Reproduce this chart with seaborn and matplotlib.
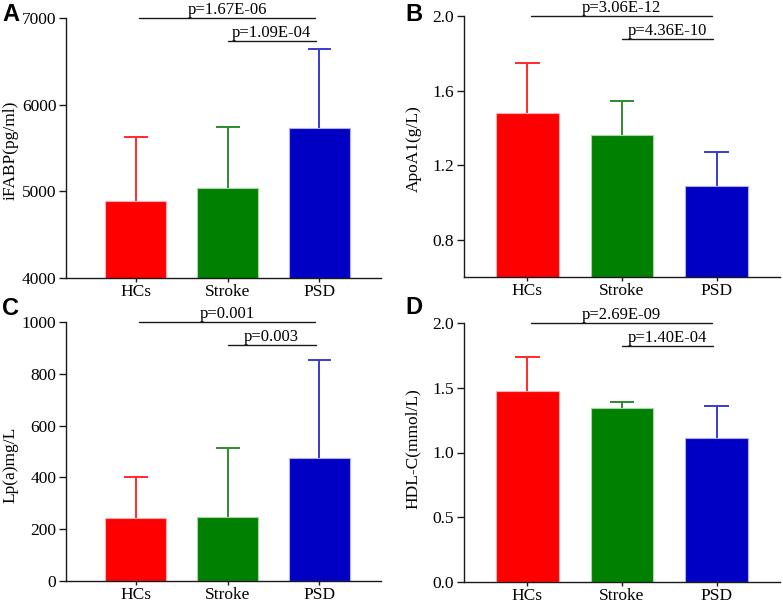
import matplotlib
matplotlib.use('Agg')
import matplotlib.pyplot as plt
import matplotlib.transforms as mtransforms
import seaborn as sns
import pandas as pd

# ---------------- data ----------------
groups = ['HCs', 'Stroke', 'PSD']

ifabp_mean = [4888, 5038, 5731]
ifabp_sd = [739, 704, 911]

apoa1_mean = [1.478, 1.360, 1.088]
apoa1_sd = [0.268, 0.186, 0.185]

lpa_mean = [243, 248, 474]
lpa_sd = [158, 266, 380]

hdl_mean = [1.473, 1.347, 1.114]
hdl_sd = [0.264, 0.045, 0.246]

ylabels = ['iFABP(pg/ml)', 'ApoA1(g/L)', 'Lp(a)mg/L', 'HDL-C(mmol/L)']
panel_letters = ['A', 'B', 'C', 'D']

pvals_A = ['p=1.67E-06', 'p=1.09E-04']
pvals_B = ['p=3.06E-12', 'p=4.36E-10']
pvals_C = ['p=0.001', 'p=0.003']
pvals_D = ['p=2.69E-09', 'p=1.40E-04']
pairs = [(0, 2), (1, 2)]

yticks_A = [4000, 5000, 6000, 7000]
yticks_B = [0.8, 1.2, 1.6, 2.0]
yticks_C = [0, 200, 400, 600, 800, 1000]
yticks_D = [0.0, 0.5, 1.0, 1.5, 2.0]
ylim_A = (4000, 7000)
ylim_B = (0.6, 2.0)
ylim_C = (0, 1000)
ylim_D = (0, 2.0)
ytick_fmt = ['{:.0f}', '{:.1f}', '{:.0f}', '{:.1f}']

# ---------------- style ----------------
sns.set_theme(style='ticks')
plt.rcParams['font.family'] = ['Liberation Serif', 'DejaVu Serif']

bar_colors = ['#FF0000', '#008000', '#0000C4']
err_colors = ['#FF2A2A', '#2E8B2E', '#3A3AD0']
edge_colors = ['#FFB0B0', '#A8D8A8', '#B0B0F0']

W, H = 783, 604
fig = plt.figure(figsize=(W / 100, H / 100), dpi=100)

# axes rectangles in pixels: left, right, top, bottom
rects = [(66, 381, 18, 278), (464, 780, 16, 277), (66, 381, 322, 581), (464, 780, 323, 582)]
xlims = [(-0.76, 2.67), (-0.67, 2.67), (-0.76, 2.67), (-0.67, 2.67)]
ylabel_x = [-0.150, -0.133, -0.150, -0.135]
ylabel_y = [0.49, 0.49, 0.45, 0.515]
letter_pos = [(2, 3), (405, 3), (2, 297), (405, 296)]

means = [ifabp_mean, apoa1_mean, lpa_mean, hdl_mean]
sds = [ifabp_sd, apoa1_sd, lpa_sd, hdl_sd]
pvals = [pvals_A, pvals_B, pvals_C, pvals_D]
yticks = [yticks_A, yticks_B, yticks_C, yticks_D]
ylims = [ylim_A, ylim_B, ylim_C, ylim_D]

FS = 12.5
PFS = 12
CAP = 0.13
for i in range(4):
    l, r, t, b = rects[i]
    ax = fig.add_axes([l / W, 1 - b / H, (r - l) / W, (b - t) / H])
    df = pd.DataFrame({'group': groups, 'value': means[i]})
    sns.barplot(data=df, x='group', y='value', hue='group', palette=bar_colors,
                saturation=1, width=0.66, legend=False, ax=ax, zorder=2)
    for k, patch in enumerate(ax.patches):
        patch.set_edgecolor(edge_colors[k])
        patch.set_linewidth(0.8)
    for k in range(3):
        top = means[i][k] + sds[i][k]
        ax.vlines(k, means[i][k], top, colors=err_colors[k], lw=1.4, zorder=1)
        ax.hlines(top, k - CAP, k + CAP, colors=err_colors[k], lw=1.4, zorder=1)
    ax.set_xlim(*xlims[i])
    ax.set_ylim(*ylims[i])
    ax.set_yticks(yticks[i])
    ax.set_yticklabels([ytick_fmt[i].format(v) for v in yticks[i]])
    ax.set_xlabel('')
    ax.set_ylabel(ylabels[i], fontsize=FS, color='black')
    ax.yaxis.set_label_coords(ylabel_x[i], ylabel_y[i])
    for s in ['top', 'right']:
        ax.spines[s].set_visible(False)
    for s in ['left', 'bottom']:
        ax.spines[s].set_linewidth(1.0)
        ax.spines[s].set_color('#1a1a1a')
    ax.tick_params(axis='y', length=5, width=1.0, labelsize=FS, pad=2, colors='#1a1a1a', labelcolor='black')
    ax.tick_params(axis='x', length=3, width=1.0, labelsize=FS, pad=1.5, colors='#1a1a1a', labelcolor='black')
    ax.grid(False)
    ax.set_facecolor('white')

    # significance brackets
    trans = mtransforms.blended_transform_factory(ax.transData, ax.transAxes)
    levels = [1.0, 0.91]
    for (g1, g2), lev, txt in zip(pairs, levels, pvals[i]):
        x1 = g1 + 0.04 if g1 == 0 else g1 + 0.0
        x2 = g2 - 0.05 if g1 == 0 else g2 - 0.04
        ax.plot([x1, x2], [lev, lev], color='#1a1a1a', lw=1.0, transform=trans,
                clip_on=False, zorder=5)
        ax.annotate(txt, xy=((x1 + x2) / 2, lev), xycoords=trans,
                    xytext=(0, 0.0), textcoords='offset points',
                    ha='center', va='bottom', fontsize=PFS, color='black')

    lx, ly = letter_pos[i]
    fig.text(lx / W, 1 - ly / H, panel_letters[i], fontsize=17, fontweight='bold',
             family=['Liberation Sans', 'DejaVu Sans'], ha='left', va='top', color='black')

fig.savefig('out.png', dpi=100, facecolor='white')
